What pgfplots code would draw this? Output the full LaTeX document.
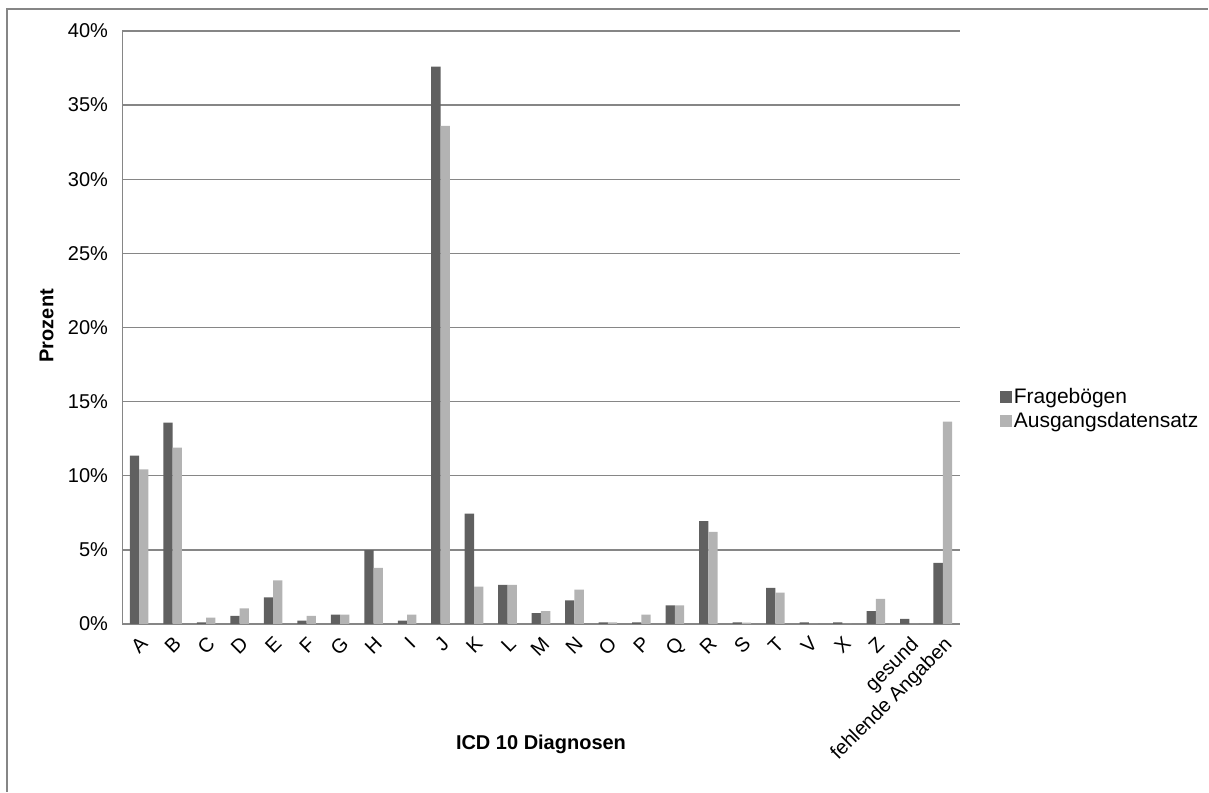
\documentclass[border=0pt]{standalone}
\usepackage{pgfplots}
\pgfplotsset{compat=1.18}
\usepackage{fontspec}
\setmainfont{Liberation Sans}
\definecolor{darkbar}{RGB}{96,96,96}
\definecolor{lightbar}{RGB}{179,179,179}
\definecolor{gridc}{RGB}{134,134,134}
\begin{document}
\begin{tikzpicture}[x=1pt,y=1pt]
\path (0,0) rectangle (1209,792);
\draw[gridc, line width=1.2pt] (7,0) -- (7,783) -- (1209,783);
\begin{axis}[
  at={(122.5pt,167.7pt)}, anchor=south west,
  scale only axis, width=837.5pt, height=593.3pt,
  ybar=0pt, bar width=9.3pt,
  xmin=-0.5, xmax=24.5, ymin=0, ymax=40,
  xtick={0,...,24},
  xticklabels={A,B,C,D,E,F,G,H,I,J,K,L,M,N,O,P,Q,R,S,T,V,X,Z,gesund,fehlende Angaben},
  x tick label style={xshift=0pt, yshift=-10pt, rotate=45, anchor=north east, font=\fontsize{20}{22}\selectfont, inner sep=1pt},
  ytick={0,5,...,40},
  yticklabels={0\%,5\%,10\%,15\%,20\%,25\%,30\%,35\%,40\%},
  y tick label style={font=\fontsize{20}{22}\selectfont, xshift=-11pt},
  tick style={draw=none},
  major tick length=0pt,
  axis lines=left,
  axis line style={-, draw=gridc, line width=1.5pt},
  ymajorgrids, grid style={gridc, line width=1.3pt},
  xlabel={\textbf{ICD 10 Diagnosen}},
  xlabel style={at={(rel axis cs:0.5,-0.203)}, anchor=center, font=\fontsize{20}{22}\selectfont},
  ylabel={\textbf{Prozent}},
  ylabel style={at={(rel axis cs:-0.0905,0.503)}, anchor=center, rotate=0, font=\fontsize{20}{22}\selectfont},
  legend style={at={(1.048,0.363)}, anchor=west, draw=none, fill=none, font=\fontsize{21}{24}\selectfont, row sep=3pt, inner sep=0pt},
  legend cell align=left,
  legend image code/.code={\draw[#1,draw=none] (0pt,-6pt) rectangle (12pt,6pt);},
]
\addplot[fill=darkbar, draw=none] coordinates {
(0,11.35) (1,13.58) (2,0.11) (3,0.54) (4,1.80) (5,0.23) (6,0.63) (7,4.98) (8,0.23) (9,37.6)
(10,7.45) (11,2.64) (12,0.74) (13,1.60) (14,0.11) (15,0.11) (16,1.26) (17,6.94) (18,0.11) (19,2.43)
(20,0.11) (21,0.11) (22,0.86) (23,0.34) (24,4.12)};
\addplot[fill=lightbar, draw=none] coordinates {
(0,10.43) (1,11.89) (2,0.43) (3,1.06) (4,2.95) (5,0.54) (6,0.63) (7,3.78) (8,0.63) (9,33.6)
(10,2.52) (11,2.64) (12,0.86) (13,2.32) (14,0.11) (15,0.63) (16,1.26) (17,6.22) (18,0.10) (19,2.12)
(20,0) (21,0) (22,1.69) (23,0) (24,13.65)};
\legend{Fragebögen,Ausgangsdatensatz}
\end{axis}
\end{tikzpicture}
\end{document}
